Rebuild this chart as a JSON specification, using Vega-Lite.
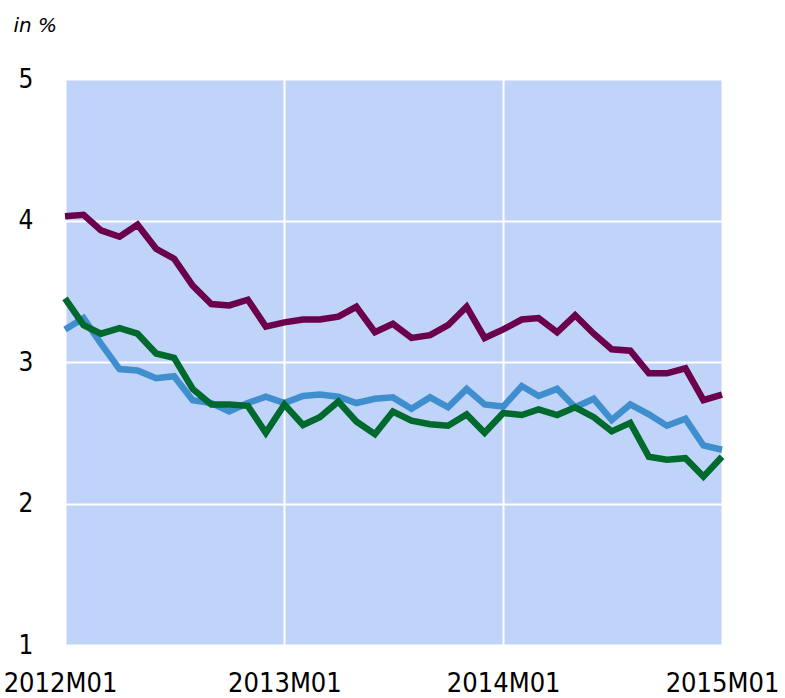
{
  "$schema": "https://vega.github.io/schema/vega-lite/v6.json",
  "autosize": "none",
  "width": 657,
  "height": 566,
  "padding": {"left": 65, "top": 79, "right": 63, "bottom": 53},
  "background": "white",
  "config": {
    "view": {"fill": "#c0d3f8", "stroke": null},
    "font": "DejaVu Sans Condensed"
  },
  "data": {
    "values": [
      {"m": "2012-01-01", "s1": 3.23, "s2": 4.03, "s3": 3.45},
      {"m": "2012-02-01", "s1": 3.31, "s2": 4.04, "s3": 3.26},
      {"m": "2012-03-01", "s1": 3.13, "s2": 3.93, "s3": 3.20},
      {"m": "2012-04-01", "s1": 2.95, "s2": 3.885, "s3": 3.24},
      {"m": "2012-05-01", "s1": 2.94, "s2": 3.97, "s3": 3.20},
      {"m": "2012-06-01", "s1": 2.885, "s2": 3.80, "s3": 3.06},
      {"m": "2012-07-01", "s1": 2.90, "s2": 3.73, "s3": 3.03},
      {"m": "2012-08-01", "s1": 2.73, "s2": 3.54, "s3": 2.81},
      {"m": "2012-09-01", "s1": 2.71, "s2": 3.41, "s3": 2.70},
      {"m": "2012-10-01", "s1": 2.65, "s2": 3.40, "s3": 2.70},
      {"m": "2012-11-01", "s1": 2.71, "s2": 3.44, "s3": 2.69},
      {"m": "2012-12-01", "s1": 2.755, "s2": 3.25, "s3": 2.50},
      {"m": "2013-01-01", "s1": 2.71, "s2": 3.28, "s3": 2.70},
      {"m": "2013-02-01", "s1": 2.76, "s2": 3.30, "s3": 2.555},
      {"m": "2013-03-01", "s1": 2.77, "s2": 3.30, "s3": 2.61},
      {"m": "2013-04-01", "s1": 2.755, "s2": 3.32, "s3": 2.72},
      {"m": "2013-05-01", "s1": 2.71, "s2": 3.39, "s3": 2.58},
      {"m": "2013-06-01", "s1": 2.74, "s2": 3.21, "s3": 2.49},
      {"m": "2013-07-01", "s1": 2.75, "s2": 3.27, "s3": 2.65},
      {"m": "2013-08-01", "s1": 2.67, "s2": 3.17, "s3": 2.585},
      {"m": "2013-09-01", "s1": 2.75, "s2": 3.19, "s3": 2.56},
      {"m": "2013-10-01", "s1": 2.68, "s2": 3.26, "s3": 2.55},
      {"m": "2013-11-01", "s1": 2.81, "s2": 3.39, "s3": 2.63},
      {"m": "2013-12-01", "s1": 2.70, "s2": 3.17, "s3": 2.50},
      {"m": "2014-01-01", "s1": 2.685, "s2": 3.23, "s3": 2.64},
      {"m": "2014-02-01", "s1": 2.83, "s2": 3.30, "s3": 2.625},
      {"m": "2014-03-01", "s1": 2.76, "s2": 3.31, "s3": 2.665},
      {"m": "2014-04-01", "s1": 2.81, "s2": 3.21, "s3": 2.625},
      {"m": "2014-05-01", "s1": 2.68, "s2": 3.33, "s3": 2.68},
      {"m": "2014-06-01", "s1": 2.74, "s2": 3.20, "s3": 2.61},
      {"m": "2014-07-01", "s1": 2.59, "s2": 3.09, "s3": 2.51},
      {"m": "2014-08-01", "s1": 2.70, "s2": 3.08, "s3": 2.57},
      {"m": "2014-09-01", "s1": 2.63, "s2": 2.92, "s3": 2.33},
      {"m": "2014-10-01", "s1": 2.55, "s2": 2.92, "s3": 2.31},
      {"m": "2014-11-01", "s1": 2.60, "s2": 2.955, "s3": 2.32},
      {"m": "2014-12-01", "s1": 2.41, "s2": 2.73, "s3": 2.19},
      {"m": "2015-01-01", "s1": 2.38, "s2": 2.77, "s3": 2.33}
    ]
  },
  "transform": [
    {"fold": ["s1", "s2", "s3"], "as": ["series", "value"]}
  ],
  "mark": {"type": "line", "strokeWidth": 6.5, "strokeJoin": "miter", "strokeCap": "butt"},
  "encoding": {
    "x": {
      "field": "m",
      "type": "temporal",
      "scale": {"type": "utc", "domain": [{"year": 2012, "month": 1, "date": 1, "utc": true}, {"year": 2015, "month": 1, "date": 1, "utc": true}]},
      "axis": {
        "title": null,
        "values": [
          {"year": 2012, "month": 1, "date": 1, "utc": true},
          {"year": 2013, "month": 1, "date": 1, "utc": true},
          {"year": 2014, "month": 1, "date": 1, "utc": true},
          {"year": 2015, "month": 1, "date": 1, "utc": true}
        ],
        "labelExpr": "utcFormat(datum.value, '%Y') + 'M' + utcFormat(datum.value, '%m')",
        "labelOffset": {"condition": {"test": "datum.index === 0", "value": -5}, "value": 0},
        "domain": false,
        "ticks": false,
        "grid": true,
        "gridColor": "white",
        "gridWidth": 2,
        "gridOpacity": 1,
        "labelFontSize": 27,
        "labelColor": "black",
        "labelPadding": 46,
        "labelFlush": false,
        "labelOverlap": false,
        "labelBaseline": "alphabetic"
      }
    },
    "y": {
      "field": "value",
      "type": "quantitative",
      "scale": {"domain": [1, 5], "nice": false, "zero": false},
      "axis": {
        "values": [1, 2, 3, 4, 5],
        "title": "in %",
        "titleAngle": 0,
        "titleAlign": "left",
        "titleBaseline": "alphabetic",
        "titleX": -52,
        "titleY": -48,
        "titleFontSize": 20,
        "titleFont": "DejaVu Sans",
        "titleFontStyle": "italic",
        "titleFontWeight": "normal",
        "titleColor": "black",
        "domain": false,
        "ticks": false,
        "grid": true,
        "gridColor": "white",
        "gridWidth": 2,
        "gridOpacity": 1,
        "labelFontSize": 26,
        "labelColor": "black",
        "labelPadding": 32,
        "labelFlush": false
      }
    },
    "color": {
      "field": "series",
      "type": "nominal",
      "scale": {"domain": ["s1", "s2", "s3"], "range": ["#3f8fcf", "#6b004d", "#006a2e"]},
      "legend": null
    }
  }
}
